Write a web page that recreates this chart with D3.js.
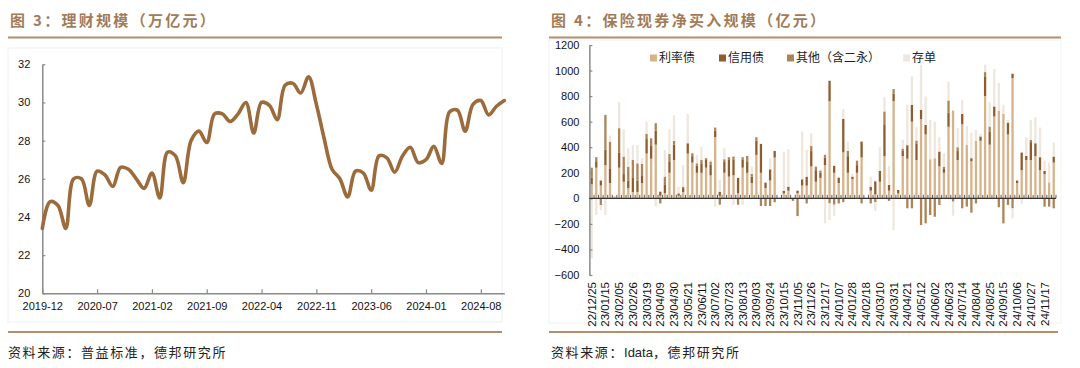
<!DOCTYPE html>
<html><head><meta charset="utf-8">
<script src="https://cdn.jsdelivr.net/npm/d3@7"></script>
<style>
html,body{margin:0;padding:0;background:#fff;}
svg{display:block;}
</style></head>
<body><svg id="c" width="1080" height="368"></svg>
<script>
// ---------- Left chart data: 理财规模（万亿元）, monthly ----------
const months = ["2019-12","2020-01","2020-02","2020-03","2020-04","2020-05","2020-06","2020-07","2020-08","2020-09","2020-10","2020-11","2020-12",
"2021-01","2021-02","2021-03","2021-04","2021-05","2021-06","2021-07","2021-08","2021-09","2021-10","2021-11","2021-12",
"2022-01","2022-02","2022-03","2022-04","2022-05","2022-06","2022-07","2022-08","2022-09","2022-10","2022-11","2022-12",
"2023-01","2023-02","2023-03","2023-04","2023-05","2023-06","2023-07","2023-08","2023-09","2023-10","2023-11","2023-12",
"2024-01","2024-02","2024-03","2024-04","2024-05","2024-06","2024-07","2024-08","2024-09","2024-10","2024-11"];
const wealthScale = [23.4,24.8,24.6,23.4,26.0,26.0,24.6,26.4,26.2,25.6,26.6,26.5,26.0,
25.5,26.3,25.0,27.4,27.2,25.8,28.0,28.5,27.9,29.4,29.4,29.0,
29.4,30.0,28.4,30.0,29.85,29.1,30.9,31.0,30.5,31.35,29.9,28.1,
26.5,26.0,25.05,26.4,26.3,25.4,27.2,27.1,26.35,27.2,27.65,26.85,
27.0,27.7,26.8,29.5,29.6,28.5,29.9,30.1,29.35,29.8,30.1];
const leftXTicks = ["2019-12","2020-07","2021-02","2021-09","2022-04","2022-11","2023-06","2024-01","2024-08"];
const leftYTicks = [20,22,24,26,28,30,32];

// ---------- Right chart data: 保险现券净买入规模（亿元）, weekly ----------
const weeks = ["22/12/25","23/01/01","23/01/08","23/01/15","23/01/22","23/01/29","23/02/05","23/02/12","23/02/19","23/02/26",
"23/03/05","23/03/12","23/03/19","23/03/26","23/04/02","23/04/09","23/04/16","23/04/23","23/04/30","23/05/07",
"23/05/14","23/05/21","23/05/28","23/06/04","23/06/11","23/06/18","23/06/25","23/07/02","23/07/09","23/07/16",
"23/07/23","23/07/30","23/08/06","23/08/13","23/08/20","23/08/27","23/09/03","23/09/10","23/09/17","23/09/24",
"23/10/01","23/10/08","23/10/15","23/10/22","23/10/29","23/11/05","23/11/12","23/11/19","23/11/26","23/12/03",
"23/12/10","23/12/17","23/12/24","23/12/31","24/01/07","24/01/14","24/01/21","24/01/28","24/02/04","24/02/11",
"24/02/18","24/02/25","24/03/03","24/03/10","24/03/17","24/03/24","24/03/31","24/04/07","24/04/14","24/04/21",
"24/04/28","24/05/05","24/05/12","24/05/19","24/05/26","24/06/02","24/06/09","24/06/16","24/06/23","24/06/30",
"24/07/07","24/07/14","24/07/21","24/07/28","24/08/04","24/08/11","24/08/18","24/08/25","24/09/01","24/09/08",
"24/09/15","24/09/22","24/09/29","24/10/06","24/10/13","24/10/20","24/10/27","24/11/03","24/11/10","24/11/17",
"24/11/24","24/12/01"];
const rateBond = [110,240,100,260,120,15,240,130,80,50,
50,120,350,310,420,20,40,200,300,20,
50,350,280,200,200,240,180,480,20,200,
170,180,40,240,200,120,340,200,80,140,
320,5,40,60,5,40,100,100,250,130,
160,260,760,200,120,360,200,150,200,320,
5,60,30,130,330,60,760,40,330,310,
600,300,620,500,306,314,250,200,560,687,
300,580,418,290,452,450,800,420,640,687,
661,500,940,120,220,300,300,330,220,190,
125,280];
const creditBond = [50,50,39,120,110,0,120,60,60,110,
90,60,120,100,110,32,70,90,120,19,
30,81,50,55,75,60,85,50,32,90,
130,120,120,60,90,50,110,226,43,87,
51,0,20,31,0,20,49,70,120,90,
40,60,160,54,42,262,130,20,60,124,
0,31,103,84,250,45,60,25,45,106,
132,130,73,75,0,0,116,30,110,0,
70,81,0,24,0,34,150,100,79,0,
0,93,35,19,138,32,140,101,102,24,
0,47];
const otherBond = [80,32,-52,273,214,0,189,137,108,140,
134,89,35,60,58,-40,60,58,30,0,
11,0,23,19,25,14,23,24,-50,16,
22,27,-50,22,42,21,28,-60,-60,-60,
-31,0,0,0,-20,-139,0,-40,40,28,
17,20,-40,-50,-40,-30,41,0,35,-40,
0,-40,-30,0,100,-20,35,0,15,-78,
-78,22,-209,-196,-131,-144,-52,18,96,-26,
30,-78,-65,-112,-40,0,38,42,0,-70,
-196,-52,-78,0,0,0,17,0,0,-65,
-65,-78];
const cdBond = [-470,-130,-40,-130,47,0,204,214,144,118,
144,45,96,0,-65,0,209,193,201,52,
170,230,0,66,105,0,12,-65,92,86,
0,-50,0,-50,0,57,0,0,0,87,
0,0,306,293,0,0,374,209,100,0,
0,-196,-130,-90,0,78,73,21,0,0,
0,79,-70,186,112,149,-250,0,70,316,
222,105,353,222,308,287,112,105,149,-110,
149,110,149,201,84,21,58,191,293,215,
71,21,-79,0,-47,146,157,204,232,81,
157,110];
const rightYTicks = [-600,-400,-200,0,200,400,600,800,1000,1200];
const seriesNames = ["利率债","信用债","其他（含二永）","存单"];

// ---------- drawing ----------
const svg = d3.select("#c");
const cjk = "'Noto Sans CJK SC','Noto Sans',sans-serif";
const latin = "'Liberation Sans',Arial,sans-serif";
const titleColor = "#a27b58";
const ruleColor = "#b38d6d";

// Left panel frame & titles
svg.append("rect").attr("x",8).attr("y",48).attr("width",494).attr("height",274)
  .attr("fill","none").attr("stroke","#f0f0f0");
svg.append("text").attr("x",10).attr("y",26).text("图 3：理财规模（万亿元）")
  .attr("font-family",cjk).attr("font-size",15).attr("font-weight","bold")
  .attr("letter-spacing",2.3).attr("fill",titleColor);
svg.append("line").attr("x1",8).attr("x2",502).attr("y1",37.5).attr("y2",37.5)
  .attr("stroke",ruleColor).attr("stroke-width",2);
svg.append("line").attr("x1",8).attr("x2",502).attr("y1",332).attr("y2",332)
  .attr("stroke",ruleColor).attr("stroke-width",2);
svg.append("text").attr("x",8).attr("y",357).text("资料来源：普益标准，德邦研究所")
  .attr("font-family",cjk).attr("font-size",13).attr("letter-spacing",1.6).attr("fill","#222");

const xL = d3.scalePoint().domain(months).range([42.3,504.3]);
const yL = d3.scaleLinear().domain([20,32]).range([293.3,64.3]);

const gLy = svg.append("g").attr("transform","translate(42.3,0)")
  .call(d3.axisLeft(yL).tickValues(leftYTicks).tickSize(-3).tickSizeOuter(0).tickPadding(12));
const gLx = svg.append("g").attr("transform","translate(0,293.3)")
  .call(d3.axisBottom(xL).tickValues(leftXTicks).tickSize(-4).tickSizeOuter(0).tickPadding(9));
[gLy,gLx].forEach(g=>{
  g.select(".domain").attr("stroke","#8a8a8a").attr("stroke-width",1.5);
  g.selectAll(".tick line").attr("stroke","#8a8a8a").attr("stroke-width",1.2);
  g.selectAll("text").attr("font-family",latin).attr("font-size",11).attr("fill","#111");
});

svg.append("path").datum(wealthScale)
  .attr("d", d3.line().x((d,i)=>xL(months[i])).y(d=>yL(d)).curve(d3.curveCatmullRom.alpha(0.5)))
  .attr("fill","none").attr("stroke","#9b6b3c").attr("stroke-width",3.6)
  .attr("stroke-linejoin","round").attr("stroke-linecap","round");

// Right panel frame & titles
svg.append("rect").attr("x",549).attr("y",40).attr("width",512).attr("height",283)
  .attr("fill","none").attr("stroke","#f2f2f2");
svg.append("text").attr("x",551).attr("y",26).text("图 4：保险现券净买入规模（亿元）")
  .attr("font-family",cjk).attr("font-size",15).attr("font-weight","bold")
  .attr("letter-spacing",2.3).attr("fill",titleColor);
svg.append("line").attr("x1",549).attr("x2",1061).attr("y1",37.5).attr("y2",37.5)
  .attr("stroke",ruleColor).attr("stroke-width",2);
svg.append("line").attr("x1",549).attr("x2",1058).attr("y1",332).attr("y2",332)
  .attr("stroke",ruleColor).attr("stroke-width",2);
const src = svg.append("text").attr("x",551).attr("y",357)
  .attr("font-family",cjk).attr("font-size",13).attr("letter-spacing",1.6).attr("fill","#222");
src.append("tspan").text("资料来源：");
src.append("tspan").text("Idata").attr("font-family",latin).attr("letter-spacing",0);
src.append("tspan").text("，德邦研究所");

const xR = d3.scaleBand().domain(weeks).range([589.4,1056]).paddingInner(0.5).paddingOuter(0.25);
const yR = d3.scaleLinear().domain([-600,1200]).range([275,45]);

const table = weeks.map((w,i)=>({w, rate:rateBond[i], credit:creditBond[i], other:otherBond[i], cd:cdBond[i]}));
const keys = ["rate","credit","other","cd"];
const colors = {rate:"#d6b38a", credit:"#8e5c2e", other:"#ad8457", cd:"#efe7de"};
const stacked = d3.stack().keys(keys).offset(d3.stackOffsetDiverging)(table);

const barW = 2.3;
svg.append("g").selectAll("g").data(stacked).join("g").attr("fill",d=>colors[d.key])
  .selectAll("rect").data(d=>d).join("rect")
  .attr("x",d=>xR(d.data.w)+xR.bandwidth()/2-barW/2)
  .attr("width",barW)
  .attr("y",d=>yR(Math.max(d[0],d[1])))
  .attr("height",d=>Math.abs(yR(d[0])-yR(d[1])));

const gRy = svg.append("g").attr("transform","translate(589.4,0)")
  .call(d3.axisLeft(yR).tickValues(rightYTicks).tickFormat(d3.format("d")).tickSize(-3).tickSizeOuter(0).tickPadding(10));
gRy.select(".domain").attr("stroke","#8a8a8a").attr("stroke-width",1.5);
gRy.selectAll(".tick line").attr("stroke","#8a8a8a").attr("stroke-width",1.2);
gRy.selectAll("text").attr("font-family",latin).attr("font-size",11).attr("fill","#111");

// zero line with category tick marks
const y0 = yR(0);
svg.append("line").attr("x1",589.4).attr("x2",1056).attr("y1",y0).attr("y2",y0)
  .attr("stroke","#333").attr("stroke-width",1.2);
const step = xR.step();
svg.append("g").selectAll("line").data(weeks).join("line")
  .attr("x1",d=>xR(d)+xR.bandwidth()/2+step/2).attr("x2",d=>xR(d)+xR.bandwidth()/2+step/2)
  .attr("y1",y0).attr("y2",y0-3.5).attr("stroke","#333").attr("stroke-width",0.8);

// rotated category labels (every 3rd)
svg.append("g").selectAll("text").data(weeks.filter((d,i)=>i%3===0)).join("text")
  .attr("transform",d=>`translate(${xR(d)+xR.bandwidth()/2},282) rotate(-90)`)
  .attr("text-anchor","end").attr("dy","0.35em")
  .attr("font-family",latin).attr("font-size",11.5).attr("fill","#111").text(d=>d);

// legend
const legX = [650,719,787,903];
const lg = svg.append("g").selectAll("g").data(keys).join("g")
  .attr("transform",(d,i)=>`translate(${legX[i]},58)`);
lg.append("rect").attr("x",0).attr("y",-3.5).attr("width",7).attr("height",7).attr("fill",d=>colors[d]);
lg.append("text").attr("x",9).attr("y",0).attr("dy","0.36em").text((d,i)=>seriesNames[i])
  .attr("font-family",cjk).attr("font-size",12).attr("fill","#222");
</script></body></html>
